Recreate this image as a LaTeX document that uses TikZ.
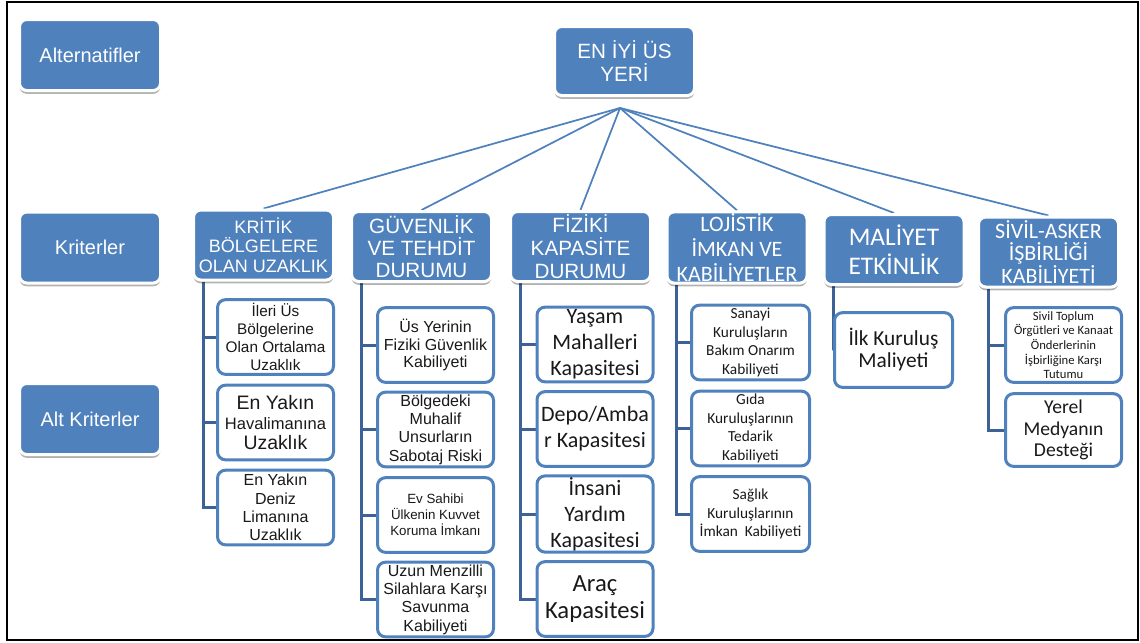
\documentclass[tikz,border=0pt]{standalone}
\usepackage{fontspec}
\setmainfont{Liberation Sans}
\newfontfamily\calfont{Carlito}
\usepackage{tikz}
\usetikzlibrary{calc,shadows,backgrounds}
\definecolor{boxBlue}{RGB}{79,129,189}
\definecolor{spineBlue}{RGB}{60,98,152}
\definecolor{subText}{RGB}{25,25,25}
\newcommand{\fs}[2]{\fontsize{#1}{#2}\selectfont}

\begin{document}
\begin{tikzpicture}[x=0.75pt,y=-0.75pt,
  bluebox/.style={fill=boxBlue,draw=white,line width=2.25pt,rounded corners=5.5pt,
    text=white,align=center,inner sep=1pt,
    drop shadow={shadow xshift=0pt,shadow yshift=-2.5pt,opacity=.3,fill=black}},
  levelbox/.style={bluebox,minimum width=105.75pt,minimum height=53.25pt,font=\fs{15}{18}},
  critbox/.style={bluebox,minimum width=105pt,minimum height=52.5pt},
  subbox/.style={draw=boxBlue,fill=white,line width=2.25pt,rounded corners=6pt,
    text=subText,align=center,inner sep=1pt,minimum width=87pt,minimum height=56pt},
  rootline/.style={boxBlue,line width=1.3pt},
  spine/.style={spineBlue,line width=2.25pt}]
  \useasboundingbox (0,0) rectangle (1140,643);
  \draw[line width=2pt] (7,2) rectangle (1138,640);

  % level labels
  \node[levelbox] (alt) at (90,55) {Alternatifler};
  \node[levelbox] (krit) at (90,247.5) {Kriterler};
  \node[levelbox] (altkrit) at (90,419) {Alt Kriterler};

  % goal
  \node[critbox,minimum height=51.75pt,font=\fs{15.5}{17}] (root) at (624.5,61) {EN İYİ ÜS\\YERİ};

  % criteria
  \node[critbox,font=\fs{13.5}{14.5}] (k1) at (263.5,245) {KRİTİK\\BÖLGELERE\\OLAN UZAKLIK};
  \node[critbox,font=\fs{15.5}{16.3}] (k2) at (421.5,246.5) {GÜVENLİK\\VE TEHDİT\\DURUMU};
  \node[critbox,font=\fs{15.5}{17}] (k3) at (580.5,246.5) {FİZİKİ\\KAPASİTE\\DURUMU};
  \node[critbox,font=\calfont\fs{16.5}{19}] (k4) at (737,247.5) {LOJİSTİK\\İMKAN VE\\KABİLİYETLER};
  \node[critbox,font=\calfont\fs{19}{22}] (k5) at (894,249.5) {MALİYET\\ETKİNLİK};
  \node[critbox,font=\calfont\fs{16.5}{17}] (k6) at (1048.5,252) {SİVİL-ASKER\\İŞBİRLİĞİ\\KABİLİYETİ};

  % sub criteria
  \node[subbox,font=\fs{11.5}{13.5}] (s11) at (275.5,337) {İleri Üs\\Bölgelerine\\Olan Ortalama\\Uzaklık};
  \node[subbox,font=\fs{12.4}{15}] (s12) at (275.5,422.5) {{\fs{14.6}{15}En Yakın}\\Havalimanına\\{\fs{14.6}{15}Uzaklık}};
  \node[subbox,font=\fs{12}{13.7}] (s13) at (275.5,507.5) {En Yakın\\Deniz\\Limanına\\Uzaklık};

  \node[subbox,font=\fs{12}{13}] (s21) at (435.5,345) {Üs Yerinin\\Fiziki Güvenlik\\Kabiliyeti};
  \node[subbox,font=\fs{12}{13.7}] (s22) at (435.5,429.5) {Bölgedeki\\Muhalif\\Unsurların\\Sabotaj Riski};
  \node[subbox,font=\fs{10}{12}] (s23) at (435.5,515) {Ev Sahibi\\Ülkenin Kuvvet\\Koruma İmkanı};
  \node[subbox,font=\fs{12}{13.7}] (s24) at (435.5,599.5) {Uzun Menzilli\\Silahlara Karşı\\Savunma\\Kabiliyeti};

  \node[subbox,font=\calfont\fs{16.5}{19.5}] (s31) at (595,344.5) {Yaşam\\Mahalleri\\Kapasitesi};
  \node[subbox,font=\calfont\fs{16.5}{19.5}] (s32) at (595,429) {Depo/Amba\\r Kapasitesi};
  \node[subbox,font=\calfont\fs{16.5}{19.5}] (s33) at (595,514) {İnsani\\Yardım\\Kapasitesi};
  \node[subbox,font=\calfont\fs{18.5}{20}] (s34) at (595,599) {Araç\\Kapasitesi};

  \node[subbox,minimum width=88.5pt,font=\calfont\fs{11.5}{14}] (s41) at (750.5,342.5) {Sanayi\\Kuruluşların\\Bakım Onarım\\Kabiliyeti};
  \node[subbox,minimum width=88.5pt,font=\calfont\fs{11.5}{14}] (s42) at (750.5,428.5) {Gıda\\Kuruluşlarının\\Tedarik\\Kabiliyeti};
  \node[subbox,minimum width=88.5pt,font=\calfont\fs{11.5}{14}] (s43) at (750.5,514) {Sağlık\\Kuruluşlarının\\İmkan~~Kabiliyeti};

  \node[subbox,minimum width=88.5pt,font=\calfont\fs{16}{16.5}] (s51) at (893.5,350) {İlk Kuruluş\\Maliyeti};

  \node[subbox,font=\calfont\fs{9.5}{11}] (s61) at (1063.5,345) {Sivil Toplum\\Örgütleri ve Kanaat\\Önderlerinin\\İşbirliğine Karşı\\Tutumu};
  \node[subbox,minimum height=54.5pt,font=\calfont\fs{14.7}{16.3}] (s62) at (1063.5,430) {Yerel\\Medyanın\\Desteği};

  % connectors
  \coordinate (hub) at (620,108);
  \begin{scope}[on background layer]
    \foreach \k in {1,...,6}
      \draw[rootline] (hub) -- (k\k.north);
    \foreach \k/\n in {1/3,2/4,3/4,4/3,5/1,6/2}
      \foreach \i in {1,...,\n}
        \draw[spine] ($(k\k.south west)+(11,0)$) |- (s\k\i.west);
  \end{scope}
\end{tikzpicture}
\end{document}
